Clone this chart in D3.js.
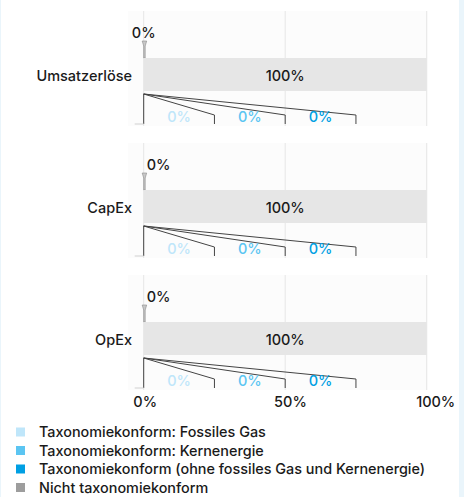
<!DOCTYPE html>
<html>
<head>
<meta charset="utf-8">
<script src="https://cdn.jsdelivr.net/npm/d3@7"></script>
<style>
  html, body { margin: 0; padding: 0; background: #eaf5fb; }
  #chart { position: absolute; left: 1px; top: 0; width: 458px; height: 497px; background: #fff; }
  text { font-family: Inter, "Open Sans", sans-serif; fill: #1a1a1a; font-weight: 500; }
</style>
</head>
<body>
<div id="chart"></div>
<script>
// Werte aus dem Bild
const categories = ["Umsatzerlöse", "CapEx", "OpEx"];
const aligned = [0, 0, 0];          // taxonomiekonform gesamt
const notAligned = [100, 100, 100]; // nicht taxonomiekonform
const fossilGas = [0, 0, 0];
const nuclear = [0, 0, 0];
const otherAligned = [0, 0, 0];
const ticks = [0, 50, 100];
const legendLabels = [
    "Taxonomiekonform: Fossiles Gas",
    "Taxonomiekonform: Kernenergie",
    "Taxonomiekonform (ohne fossiles Gas und Kernenergie)",
    "Nicht taxonomiekonform"
];
const colors = ["#bfe6fa", "#5bc5f2", "#009fe3", "#9d9d9d"];

const W = 458, H = 497;
const svg = d3.select("#chart").append("svg")
    .attr("width", W).attr("height", H);

const x = d3.scaleLinear().domain([0, 100]).range([142.7, 425.7]);
const y = d3.scaleBand().domain(categories).range([11, 11 + 132 * 3]);
const panelH = 115;
const fs = "14.5px";

categories.forEach((cat, i) => {
    const top = y(cat);
    const g = svg.append("g");

    g.append("rect")
        .attr("x", 127).attr("y", top)
        .attr("width", x(100) - 127 + 1).attr("height", panelH)
        .attr("fill", "#fcfcfc");

    g.selectAll(".grid").data(ticks).enter().append("line")
        .attr("x1", d => x(d)).attr("x2", d => x(d))
        .attr("y1", top).attr("y2", top + panelH)
        .attr("stroke", "#e6e6e6").attr("stroke-width", 1);

    // taxonomiekonform gesamt (Nadel)
    const x0 = x(0), xa = x(aligned[i]);
    g.append("path")
        .attr("d", `M${x0 - 1.5},${top + 30} L${xa + 3},${top + 30} L${xa + 1.5},${top + 35} L${xa + 1.5},${top + 47} L${x0},${top + 47} L${x0},${top + 35} Z`)
        .attr("fill", "#c8c8c8").attr("stroke", "#8a8a8a").attr("stroke-width", 0.6);

    g.append("text")
        .attr("x", i === 0 ? (x0 + xa) / 2 : x0 + 3)
        .attr("y", top + 22)
        .attr("dy", "0.35em")
        .attr("text-anchor", i === 0 ? "middle" : "start")
        .style("font-size", fs)
        .text(aligned[i] + "%");

    // nicht taxonomiekonform
    g.append("rect")
        .attr("x", xa).attr("y", top + 47)
        .attr("width", x(aligned[i] + notAligned[i]) - xa).attr("height", 33)
        .attr("fill", "#e6e6e6");

    g.append("text")
        .attr("x", (xa + x(aligned[i] + notAligned[i])) / 2)
        .attr("y", top + 64.5).attr("dy", "0.35em")
        .attr("text-anchor", "middle")
        .style("font-size", fs)
        .text(notAligned[i] + "%");

    g.append("text")
        .attr("x", 131).attr("y", top + 64.5).attr("dy", "0.35em")
        .attr("text-anchor", "end")
        .style("font-size", fs)
        .text(cat);

    // Aufschlüsselung
    const parts = [fossilGas[i], nuclear[i], otherAligned[i]];
    const fanTop = top + 83, fanEnd = top + 104, bottom = top + 113;
    g.append("line")
        .attr("x1", x0).attr("x2", x0).attr("y1", fanTop).attr("y2", bottom)
        .attr("stroke", "#444").attr("stroke-width", 1);
    g.append("line")
        .attr("x1", x0 - 9).attr("x2", x0).attr("y1", bottom).attr("y2", bottom)
        .attr("stroke", "#d0d0d0").attr("stroke-width", 1);

    parts.forEach((v, j) => {
        const s = j * 25, e = (j + 1) * 25;
        g.append("rect")
            .attr("x", x(s)).attr("y", fanEnd)
            .attr("width", x(s + v * 0.25) - x(s)).attr("height", bottom - fanEnd)
            .attr("fill", colors[j]);
        g.append("path")
            .attr("d", `M${x0},${fanTop} L${x(e)},${fanEnd} L${x(e)},${bottom}`)
            .attr("fill", "none").attr("stroke", "#444").attr("stroke-width", 1);
        g.append("text")
            .attr("x", x((s + e) / 2)).attr("y", top + 106).attr("dy", "0.35em")
            .attr("text-anchor", "middle")
            .style("font-size", fs)
            .style("fill", colors[j])
            .text(v + "%");
    });
});

// x-Achse
svg.selectAll(".tick").data(ticks).enter().append("text")
    .attr("x", d => x(d) + 1.5 + d * 0.075)
    .attr("y", 402).attr("dy", "0.35em")
    .attr("text-anchor", "middle")
    .style("font-size", fs)
    .text(d => d + "%");

// Legende
const leg = svg.selectAll(".leg").data(legendLabels).enter().append("g")
    .attr("transform", (d, i) => `translate(15,${432 + i * 18.5})`);
leg.append("rect")
    .attr("x", 0).attr("y", -4.5).attr("width", 9).attr("height", 9)
    .attr("fill", (d, i) => colors[i]);
leg.append("text")
    .attr("x", 23).attr("dy", "0.35em")
    .style("font-size", "14.4px")
    .text(d => d);
</script>
</body>
</html>
